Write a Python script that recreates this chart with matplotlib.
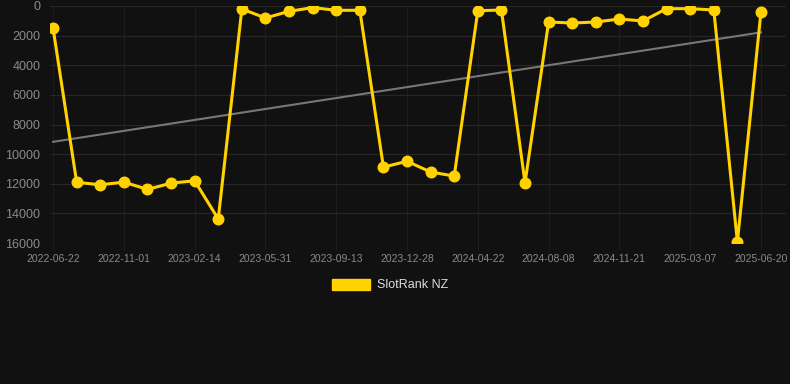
import matplotlib
matplotlib.use("Agg")
import matplotlib.pyplot as plt
import numpy as np

plt.rcParams["font.family"] = ["Liberation Sans", "DejaVu Sans"]

BG, GOLD, LBL = "#111111", "#ffd200", "#8a8a8a"
HGRID, VGRID = "#262626", "#1d1d1d"

# ranking per period (lower = better), one point every ~35 days
ranks = [1500, 11900, 12070, 11890, 12380, 11960, 11800, 14380,
         200, 810, 360, 110, 290, 290, 10880, 10480, 11210, 11480,
         320, 270, 11940, 1080, 1150, 1080, 880, 1010, 180, 180, 270,
         15920, 380]
tick_labels = ["2022-06-22", "2022-11-01", "2023-02-14", "2023-05-31",
               "2023-09-13", "2023-12-28", "2024-04-22", "2024-08-08",
               "2024-11-21", "2025-03-07", "2025-06-20"]
trend_ends = [9170, 1780]
series_name = "SlotRank NZ"

x = np.arange(len(ranks))

fig = plt.figure(figsize=(7.9, 3.84), dpi=100, facecolor=BG)
ax = fig.add_axes([50/790, 1 - 243/384, 736/790, 237/384])
ax.set_facecolor(BG)

ax.plot([x[0], x[-1]], trend_ends, color="#777777", lw=1.5, zorder=2)
ax.plot(x, ranks, color=GOLD, lw=2.2, marker="o", ms=7.6,
        solid_joinstyle="miter", zorder=3, label=series_name)

ax.set_xlim(-0.13, 31.06)
ax.set_ylim(16000, 0)
ax.set_yticks(range(0, 16001, 2000))
ax.set_xticks(x[::3])
ax.set_xticklabels(tick_labels)
ax.grid(True, axis="y", color=HGRID, lw=0.8)
ax.grid(True, axis="x", color=VGRID, lw=0.8)
ax.set_axisbelow(True)
for s in ax.spines.values():
    s.set_visible(False)
ax.tick_params(axis="x", colors=VGRID, labelcolor=LBL, labelsize=7.5,
               length=5, width=0.8, pad=3)
ax.tick_params(axis="y", length=0, labelcolor=LBL, labelsize=9, pad=7)

leg = fig.legend(handles=[plt.Rectangle((0, 0), 1, 1, color=GOLD)],
                 labels=[series_name], loc="center", bbox_to_anchor=(390/790, 1 - 285/384),
                 frameon=False, fontsize=9, handlelength=3.1, handleheight=1.0,
                 handletextpad=0.55)
for t in leg.get_texts():
    t.set_color("#dddddd")

fig.savefig("out.png", dpi=100, facecolor=BG)
